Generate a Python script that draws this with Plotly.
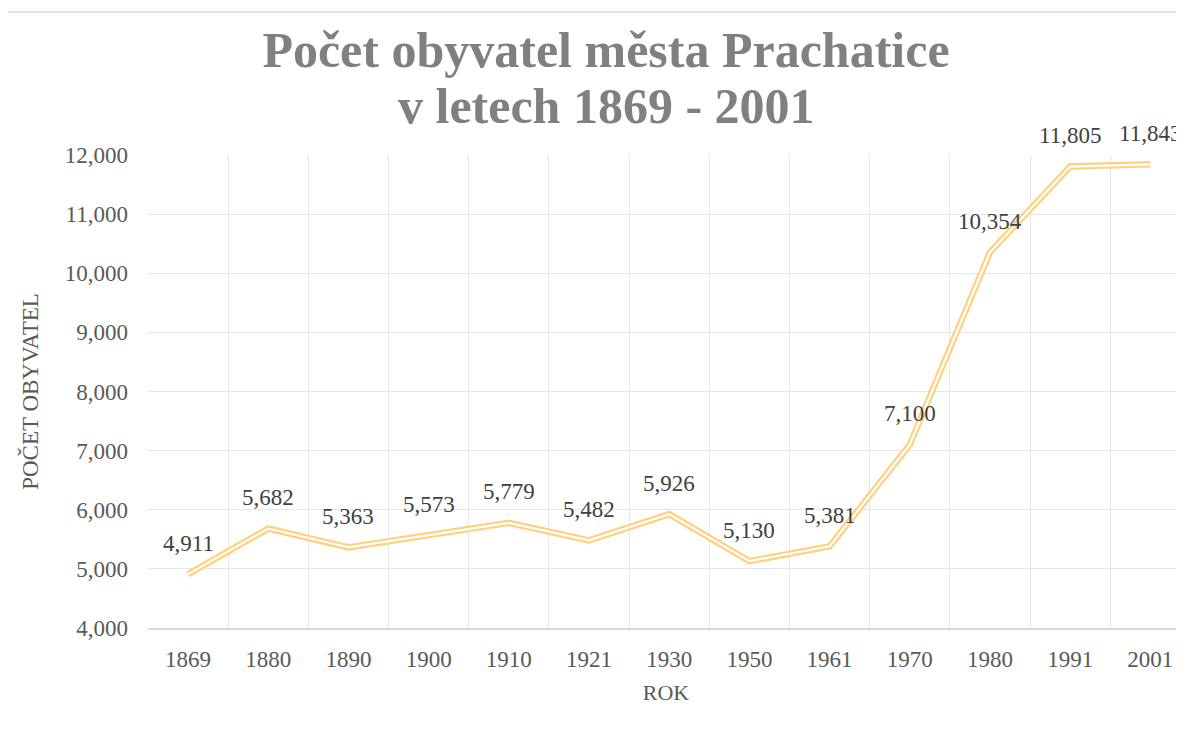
import plotly.graph_objects as go

years = ["1869", "1880", "1890", "1900", "1910", "1921", "1930", "1950", "1961", "1970", "1980", "1991", "2001"]
population = [4911, 5682, 5363, 5573, 5779, 5482, 5926, 5130, 5381, 7100, 10354, 11805, 11843]
y_ticks = [4000, 5000, 6000, 7000, 8000, 9000, 10000, 11000, 12000]

title_line1 = "Počet obyvatel města Prachatice"
title_line2 = "v letech 1869 - 2001"
x_title = "ROK"
y_title = "POČET OBYVATEL"

SERIF = "Liberation Serif, Times New Roman, serif"
LINE_COLOR = "#FFD07E"
TITLE_SIZE = 50

# page body has an 8px margin -> figure is 1176x730 and sits at (8,8)
W, H = 1176, 730
OFF = 8
L, T, B = 148 - OFF, 155 - OFF, H - (628 - OFF)
PW = W - L
PH = H - T - B

def px_x(x):  # screenshot x -> paper x
    return (x - OFF - L) / PW

def px_y(y):  # screenshot y -> paper y
    return (628 - y) / PH

fig = go.Figure()
# double (compound) line: wide coloured stroke with a thin white core
fig.add_trace(go.Scatter(x=years, y=population, mode="lines",
                         line=dict(color=LINE_COLOR, width=6.5), hoverinfo="skip",
                         showlegend=False))
fig.add_trace(go.Scatter(x=years, y=population, mode="lines",
                         line=dict(color="white", width=2.2),
                         showlegend=False))

annotations = []
for i, val in enumerate(population):
    annotations.append(dict(x=i, y=val, xref="x", yref="y", text=f"{val:,}",
                            showarrow=False, yshift=31, xanchor="center", yanchor="middle",
                            font=dict(family=SERIF, size=23, color="#404040")))
annotations.append(dict(x=px_x(606), y=px_y(106), xref="paper", yref="paper",
                        text=f"<b>{title_line2}</b>", showarrow=False,
                        xanchor="center", yanchor="middle",
                        font=dict(family=SERIF, size=TITLE_SIZE, color="#808080")))
fig.update_layout(annotations=annotations)

fig.update_layout(
    width=W, height=H,
    margin=dict(l=L, r=0, t=T, b=B),
    paper_bgcolor="white", plot_bgcolor="white",
    title=dict(text=f"<b>{title_line1}</b>", x=(606 - OFF) / W, xanchor="center",
               y=1 - (49 - OFF) / H, yanchor="middle", yref="container",
               font=dict(family=SERIF, size=TITLE_SIZE, color="#808080")),
    xaxis=dict(type="category", range=[-0.5, 12.42], tickson="boundaries",
               showgrid=True, gridcolor="#E6E6E6", gridwidth=1,
               showline=True, linecolor="#D9D9D9", linewidth=1.5,
               ticks="", ticklabelstandoff=10,
               tickfont=dict(family=SERIF, size=23, color="#595959"),
               title=dict(text=x_title, standoff=13,
                          font=dict(family=SERIF, size=22, color="#595959"))),
    yaxis=dict(range=[4000, 12000], tickvals=y_ticks, tickformat=",",
               showgrid=True, gridcolor="#E6E6E6", gridwidth=1,
               zeroline=False, showline=False, ticks="", ticklabelstandoff=19,
               tickfont=dict(family=SERIF, size=23, color="#595959"),
               title=dict(text=y_title, standoff=19,
                          font=dict(family=SERIF, size=23, color="#595959"))),
)

# chart-area border (extends past the visible right/bottom edge as in the reference)
fig.add_shape(type="rect", xref="paper", yref="paper",
              x0=px_x(7), x1=px_x(1205),
              y0=px_y(760), y1=px_y(12),
              line=dict(color="#D9D9D9", width=1.5), fillcolor="rgba(0,0,0,0)",
              layer="below")

fig.write_html("out.html")
